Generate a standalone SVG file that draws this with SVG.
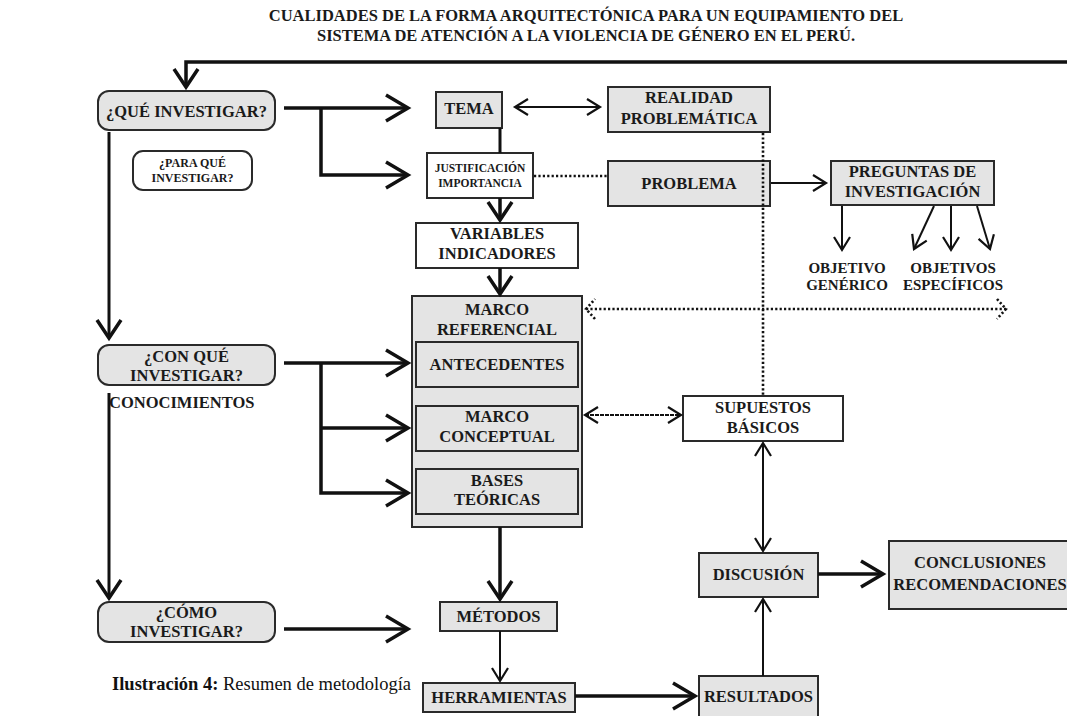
<svg xmlns="http://www.w3.org/2000/svg" width="1067" height="716" viewBox="0 0 1067 716">
<style>
.box{stroke:#2a2a2a;stroke-width:2}
.g{fill:#e4e4e4}
.w{fill:#ffffff}
.t{font-family:"Liberation Serif","Times New Roman",serif;font-weight:bold;font-size:16.5px;fill:#1a1a1a;text-anchor:middle}
.s{font-size:11.5px}
.p{font-size:12px}
.o{font-size:15px}
.c{fill:none;stroke:#111}
.k{stroke-width:3.5}
.m{stroke-width:3}
.n{stroke-width:2}
.d{stroke-width:2.6;stroke-dasharray:2.2 2.2}
.cap{font-family:"Liberation Serif","Times New Roman",serif;font-size:18.5px;fill:#111}
</style>
<defs>
<marker id="big" viewBox="-26 -16 30 32" refX="0" refY="0" markerWidth="30" markerHeight="32" markerUnits="userSpaceOnUse" orient="auto">
<path d="M-22,-13 L0,0 L-22,13" fill="none" stroke="#111" stroke-width="3.5"/>
</marker>
<marker id="mid" viewBox="-22 -15 26 30" refX="0" refY="0" markerWidth="26" markerHeight="30" markerUnits="userSpaceOnUse" orient="auto">
<path d="M-18,-12 L0,0 L-18,12" fill="none" stroke="#111" stroke-width="3.5"/>
</marker>
<marker id="sm" viewBox="-16 -11 20 22" refX="0" refY="0" markerWidth="20" markerHeight="22" markerUnits="userSpaceOnUse" orient="auto-start-reverse">
<path d="M-13,-8 L0,0 L-13,8" fill="none" stroke="#111" stroke-width="2.2"/>
</marker>
<marker id="dot" viewBox="-12 -13 16 26" refX="0" refY="0" markerWidth="16" markerHeight="26" markerUnits="userSpaceOnUse" orient="auto-start-reverse">
<path d="M-9,-10 L0,0 L-9,10" fill="none" stroke="#111" stroke-width="2.6" stroke-dasharray="2.2 2.2"/>
</marker>
</defs>
<rect width="1067" height="716" fill="#ffffff"/>

<g id="title">
<text class="t" x="586" y="21">CUALIDADES DE LA FORMA ARQUITECTÓNICA PARA UN EQUIPAMIENTO DEL</text>
<text class="t" x="586" y="41">SISTEMA DE ATENCIÓN A LA VIOLENCIA DE GÉNERO EN EL PERÚ.</text>
</g>

<g id="n-que">
<rect class="box g" x="98" y="91" width="177" height="39" rx="11"/>
<text class="t" x="186.5" y="116.5">¿QUÉ INVESTIGAR?</text>
</g>
<g id="n-para">
<rect class="box w" x="133" y="151" width="119" height="39" rx="10"/>
<text class="t p" x="192.5" y="167">¿PARA QUÉ</text>
<text class="t p" x="192.5" y="182">INVESTIGAR?</text>
</g>
<g id="n-con">
<rect class="box g" x="98" y="345" width="177" height="40" rx="11"/>
<text class="t" x="186.5" y="361.5">¿CON QUÉ</text>
<text class="t" x="186.5" y="380.5">INVESTIGAR?</text>
</g>
<g id="n-conoc">
<text class="t" x="109" y="408" style="text-anchor:start">CONOCIMIENTOS</text>
</g>
<g id="n-como">
<rect class="box g" x="98" y="602" width="177" height="40" rx="11"/>
<text class="t" x="186.5" y="618">¿CÓMO</text>
<text class="t" x="186.5" y="636.5">INVESTIGAR?</text>
</g>
<g id="n-tema">
<rect class="box g" x="436" y="92" width="66" height="36"/>
<text class="t" x="469" y="114">TEMA</text>
</g>
<g id="n-realidad">
<rect class="box g" x="608" y="87" width="162" height="45"/>
<text class="t" x="689" y="103">REALIDAD</text>
<text class="t" x="689" y="123.5">PROBLEMÁTICA</text>
</g>
<g id="n-justif">
<rect class="box w" x="427" y="153" width="106" height="45"/>
<text class="t s" x="480" y="172">JUSTIFICACIÓN</text>
<text class="t s" x="480" y="187">IMPORTANCIA</text>
</g>
<g id="n-problema">
<rect class="box g" x="608" y="161" width="162" height="45"/>
<text class="t" x="689" y="188.5">PROBLEMA</text>
</g>
<g id="n-preguntas">
<rect class="box g" x="831" y="161" width="163" height="44"/>
<text class="t" x="912.5" y="177">PREGUNTAS DE</text>
<text class="t" x="912.5" y="197">INVESTIGACIÓN</text>
</g>
<g id="n-objgen">
<text class="t o" x="847" y="272.5">OBJETIVO</text>
<text class="t o" x="847" y="290">GENÉRICO</text>
</g>
<g id="n-objesp">
<text class="t o" x="953" y="272.5">OBJETIVOS</text>
<text class="t o" x="953" y="290">ESPECÍFICOS</text>
</g>
<g id="n-variables">
<rect class="box w" x="416" y="223" width="162" height="45"/>
<text class="t" x="497" y="238.5">VARIABLES</text>
<text class="t" x="497" y="258.5">INDICADORES</text>
</g>
<g id="n-marco">
<rect class="box g" x="412" y="296" width="170" height="231"/>
<text class="t" x="497" y="315">MARCO</text>
<text class="t" x="497" y="335">REFERENCIAL</text>
</g>
<g id="n-antecedentes">
<rect class="box g" x="416" y="342" width="162" height="45"/>
<text class="t" x="497" y="370">ANTECEDENTES</text>
</g>
<g id="n-conceptual">
<rect class="box g" x="416" y="406" width="162" height="45"/>
<text class="t" x="497" y="422">MARCO</text>
<text class="t" x="497" y="442">CONCEPTUAL</text>
</g>
<g id="n-bases">
<rect class="box g" x="416" y="469" width="162" height="45"/>
<text class="t" x="497" y="485.5">BASES</text>
<text class="t" x="497" y="505">TEÓRICAS</text>
</g>
<g id="n-supuestos">
<rect class="box w" x="683" y="396" width="160" height="45"/>
<text class="t" x="763" y="412.5">SUPUESTOS</text>
<text class="t" x="763" y="432.5">BÁSICOS</text>
</g>
<g id="n-metodos">
<rect class="box g" x="440" y="602" width="117" height="29"/>
<text class="t" x="498.5" y="622">MÉTODOS</text>
</g>
<g id="n-herramientas">
<rect class="box g" x="423" y="683" width="152" height="29"/>
<text class="t" x="499" y="703">HERRAMIENTAS</text>
</g>
<g id="n-resultados">
<rect class="box g" x="699" y="676" width="119" height="50"/>
<text class="t" x="758.5" y="702">RESULTADOS</text>
</g>
<g id="n-discusion">
<rect class="box g" x="699" y="553" width="119" height="44"/>
<text class="t" x="758.5" y="580">DISCUSIÓN</text>
</g>
<g id="n-conclusiones">
<rect class="box g" x="889" y="541" width="200" height="68"/>
<text class="t" x="980" y="568">CONCLUSIONES</text>
<text class="t" x="980" y="590">RECOMENDACIONES</text>
</g>

<g id="connectors">
<polyline class="c k" points="1070,62 186,62 186,87" marker-end="url(#mid)"/>
<line class="c k" x1="284" y1="108" x2="408" y2="108" marker-end="url(#big)"/>
<polyline class="c k" points="321,108 321,175 408,175" marker-end="url(#big)"/>
<line class="c m" x1="109" y1="132" x2="109" y2="338" marker-end="url(#mid)"/>
<line class="c m" x1="109" y1="393" x2="109" y2="598" marker-end="url(#mid)"/>
<line class="c k" x1="284" y1="363" x2="408" y2="363" marker-end="url(#big)"/>
<polyline class="c k" points="321,363 321,493 408,493" marker-end="url(#big)"/>
<line class="c k" x1="321" y1="428" x2="408" y2="428" marker-end="url(#big)"/>
<line class="c k" x1="284" y1="629" x2="408" y2="629" marker-end="url(#big)"/>
<line class="c m" x1="500" y1="128" x2="500" y2="153"/>
<line class="c k" x1="500" y1="198" x2="500" y2="220" marker-end="url(#mid)"/>
<line class="c k" x1="500" y1="268" x2="500" y2="294" marker-end="url(#mid)"/>
<line class="c k" x1="500" y1="527" x2="500" y2="599" marker-end="url(#mid)"/>
<line class="c n" x1="500" y1="631" x2="500" y2="681" marker-end="url(#sm)"/>
<line class="c k" x1="575" y1="696" x2="695" y2="696" marker-end="url(#big)"/>
<line class="c n" x1="763" y1="676" x2="763" y2="599" marker-end="url(#sm)"/>
<line class="c n" x1="763" y1="443" x2="763" y2="551" marker-start="url(#sm)" marker-end="url(#sm)"/>
<line class="c k" x1="818" y1="574" x2="883" y2="574" marker-end="url(#big)"/>
<line class="c n" x1="585" y1="415" x2="681" y2="415" stroke-dasharray="4 1" marker-start="url(#sm)" marker-end="url(#sm)"/>
<line class="c n" x1="515" y1="107" x2="600" y2="107" marker-start="url(#sm)" marker-end="url(#sm)"/>
<line class="c d" x1="534" y1="176" x2="608" y2="176"/>
<line class="c n" x1="771" y1="183" x2="826" y2="183" marker-end="url(#sm)"/>
<line class="c n" x1="842" y1="206" x2="842" y2="250" marker-end="url(#sm)"/>
<line class="c n" x1="934" y1="206" x2="914" y2="249" marker-end="url(#sm)"/>
<line class="c n" x1="951" y1="206" x2="951" y2="250" marker-end="url(#sm)"/>
<line class="c n" x1="977" y1="206" x2="990" y2="249" marker-end="url(#sm)"/>
<line class="c d" x1="763" y1="133" x2="763" y2="396"/>
<line class="c d" x1="586" y1="309" x2="1006" y2="309" marker-start="url(#dot)" marker-end="url(#dot)"/>
</g>

<g id="caption">
<text class="cap" x="112" y="690"><tspan font-weight="bold">Ilustración 4:</tspan> Resumen de metodología</text>
</g>
</svg>
